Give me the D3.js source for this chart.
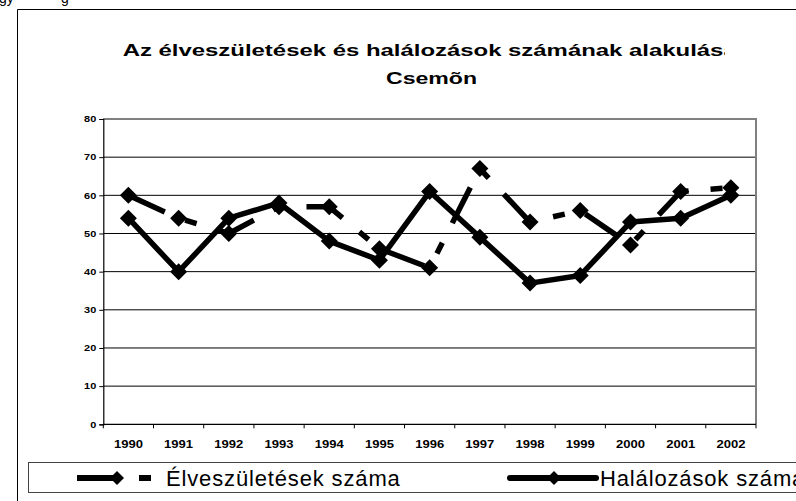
<!DOCTYPE html>
<html>
<head>
<meta charset="utf-8">
<script src="https://cdn.jsdelivr.net/npm/d3@7"></script>
<style>
  html, body { margin: 0; padding: 0; background: #fff; }
  svg { display: block; font-family: "Liberation Sans", Arial, sans-serif; }
</style>
</head>
<body>
<svg id="chart" width="796" height="501"></svg>
<script>
const years = ["1990", "1991", "1992", "1993", "1994", "1995", "1996", "1997", "1998", "1999", "2000", "2001", "2002"];
const births = [60, 54, 50, 57, 57, 46, 41, 67, 53, 56, 47, 61, 62];
const deaths = [54, 40, 54, 58, 48, 43, 61, 49, 37, 39, 53, 54, 60];
const yTicks = [0, 10, 20, 30, 40, 50, 60, 70, 80];
const seriesNames = ["Élveszületések száma", "Halálozások száma"];
const titleLines = ["Az élveszületések és halálozások számának alakulása", "Csemõn"];

const svg = d3.select("#chart");

const plot = { left: 103.3, right: 756, top: 119, bottom: 424.3 };

const x = d3.scalePoint()
  .domain(years)
  .range([plot.left, plot.right])
  .padding(0.5);

const xBand = d3.scaleBand()
  .domain(years)
  .range([plot.left, plot.right]);

const y = d3.scaleLinear()
  .domain([0, 80])
  .range([plot.bottom, plot.top]);

// stray text from the page above the chart
svg.append("text").attr("x", -1).attr("y", 3).attr("font-size", 14).text("gy");
svg.append("text").attr("x", 61).attr("y", 3).attr("font-size", 14).text("g");

// outer chart frame (runs off the right and bottom edge)
svg.append("path")
  .attr("d", "M17.5,520 V9.5 H820")
  .attr("fill", "none")
  .attr("stroke", "#000")
  .attr("stroke-width", 1);

// title, clipped on the right like the original
const defs = svg.append("defs");
defs.append("clipPath").attr("id", "titleClip")
  .append("rect").attr("x", 0).attr("y", 20).attr("width", 725).attr("height", 80);

const title = svg.append("g").attr("clip-path", "url(#titleClip)");
title.selectAll("text")
  .data(titleLines)
  .join("text")
  .attr("x", (d, i) => i === 0 ? 122.7 : 386)
  .attr("y", (d, i) => i === 0 ? 55.5 : 83.5)
  .attr("font-size", 16)
  .attr("font-weight", "bold")
  .attr("textLength", (d, i) => i === 0 ? 614 : 91)
  .attr("lengthAdjust", "spacingAndGlyphs")
  .text(d => d);

// gridlines
svg.append("g")
  .selectAll("line")
  .data(yTicks.filter(d => d > 0))
  .join("line")
  .attr("x1", plot.left)
  .attr("x2", plot.right)
  .attr("y1", d => y(d))
  .attr("y2", d => y(d))
  .attr("stroke", "#000")
  .attr("stroke-width", 1);

// plot area border (right side gray)
svg.append("path")
  .attr("d", `M${plot.left},${plot.top} H${plot.right} V${plot.bottom}`)
  .attr("fill", "none")
  .attr("stroke", "#808080")
  .attr("stroke-width", 2);

// y axis
const yAxis = svg.append("g")
  .attr("transform", `translate(${plot.left},0)`)
  .call(d3.axisLeft(y).tickValues(yTicks).tickSize(4).tickPadding(3));
yAxis.select(".domain").attr("stroke", "#000").attr("stroke-width", 1.2);
yAxis.selectAll("text")
  .attr("font-family", null)
  .attr("font-size", 8.5)
  .attr("font-weight", "bold")
  .attr("textLength", d => 6.1 * String(d).length)
  .attr("lengthAdjust", "spacingAndGlyphs")
  .attr("fill", "#000");

// x axis: ticks on the category boundaries
const xAxisG = svg.append("g").attr("transform", `translate(0,${plot.bottom})`);
xAxisG.append("line")
  .attr("x1", plot.left).attr("x2", plot.right)
  .attr("stroke", "#000").attr("stroke-width", 1.2);
xAxisG.selectAll("line.tick")
  .data(years.concat(["end"]))
  .join("line")
  .attr("class", "tick")
  .attr("x1", (d, i) => i < years.length ? xBand(d) : plot.right)
  .attr("x2", (d, i) => i < years.length ? xBand(d) : plot.right)
  .attr("y1", 0).attr("y2", 4)
  .attr("stroke", "#000");
xAxisG.selectAll("text")
  .data(years)
  .join("text")
  .attr("x", d => x(d))
  .attr("y", 24)
  .attr("text-anchor", "middle")
  .attr("font-size", 10.5)
  .attr("font-weight", "bold")
  .attr("textLength", 29)
  .attr("lengthAdjust", "spacingAndGlyphs")
  .text(d => d);

// series
const diamond = r => `M0,${-r} L${r},0 L0,${r} L${-r},0 Z`;
const line = d3.line().x((d, i) => x(years[i])).y(d => y(d));
const dash = "40,22,12,22";

function drawSeries(values, dashed) {
  const g = svg.append("g");
  g.append("path")
    .datum(values)
    .attr("d", line)
    .attr("fill", "none")
    .attr("stroke", "#000")
    .attr("stroke-width", 5.5)
    .attr("stroke-linejoin", "round")
    .attr("stroke-dasharray", dashed ? dash : null);
  g.selectAll("path.marker")
    .data(values)
    .join("path")
    .attr("class", "marker")
    .attr("d", diamond(8.5))
    .attr("transform", (d, i) => `translate(${x(years[i])},${y(d)})`)
    .attr("fill", "#000");
}

drawSeries(births, true);
drawSeries(deaths, false);

// legend
const legend = svg.append("g");
legend.append("rect")
  .attr("x", 28.5).attr("y", 462.5)
  .attr("width", 800).attr("height", 30)
  .attr("fill", "#fff")
  .attr("stroke", "#444")
  .attr("stroke-width", 1);

const legendItems = [
  { name: seriesNames[0], x0: 77, x1: 151, tx: 166, dashed: true, mx: 117 },
  { name: seriesNames[1], x0: 510, x1: 596, tx: 600, dashed: false, mx: 554 }
];

legendItems.forEach(it => {
  legend.append("line")
    .attr("x1", it.x0).attr("x2", it.x1)
    .attr("y1", 478).attr("y2", 478)
    .attr("stroke", "#000")
    .attr("stroke-width", 6)
    .attr("stroke-linecap", it.dashed ? "butt" : "round")
    .attr("stroke-dasharray", it.dashed ? dash : null);
  legend.append("path")
    .attr("d", diamond(7))
    .attr("transform", `translate(${it.mx},478)`)
    .attr("fill", "#000");
  legend.append("text")
    .attr("x", it.tx)
    .attr("y", 486)
    .attr("font-size", 22)
    .attr("letter-spacing", 0.85)
    .text(it.name);
});
</script>
</body>
</html>
